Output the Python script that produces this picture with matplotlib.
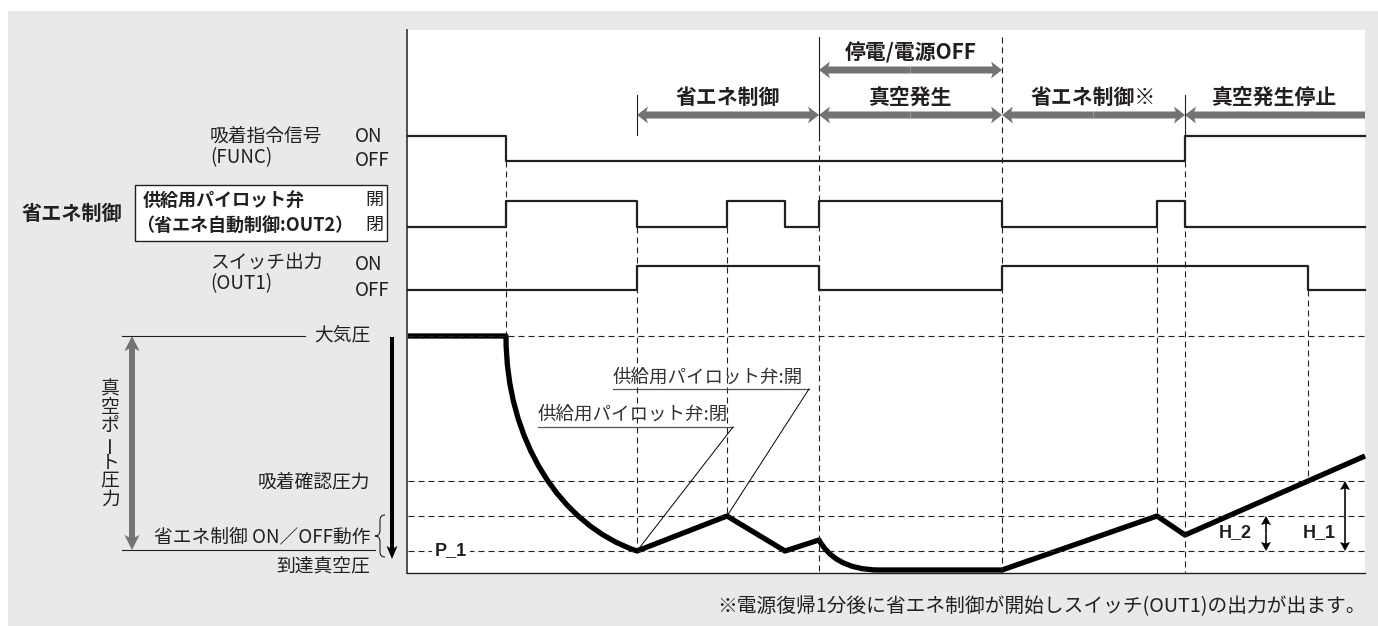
import matplotlib.pyplot as plt
from matplotlib.path import Path
from matplotlib.patches import PathPatch, Rectangle

plt.rcParams['font.family'] = ['Noto Sans CJK JP', 'DejaVu Sans']
plt.rcParams['lines.scale_dashes'] = False

INK = '#231f20'
GRAY = '#737373'
DASH = (0, (4.3, 2.9))

# time axis in diagram columns
t0, t_end = 408, 1365

# signal edges and states (1 = ON / 開)
func_t = [408, 506, 1185, 1365]
func_s = [1, 0, 1, 1]
pilot_t = [408, 506, 637, 727, 785, 819, 1002, 1157, 1185, 1365]
pilot_s = [0, 1, 0, 1, 0, 1, 0, 1, 0, 0]
out1_t = [408, 637, 819, 1002, 1308, 1365]
out1_s = [0, 1, 0, 1, 0, 0]

# signal levels (off, on)
func_lv = (161, 136)
pilot_lv = (227, 201)
out1_lv = (290, 266)

# pressure levels
p_atm, p_confirm, p_h, p_1, p_floor = 336, 481, 516, 551, 570

# vacuum port pressure trace (M = move, L = line, C = bezier)
press_x = [408, 506, 506, 560, 637, 727, 785, 819, 828, 845, 880, 1002, 1157, 1185, 1365]
press_y = [336, 336, 440, 525, 551, 516, 551, 540, 556, 570, 570, 570, 516, 535, 456]
press_c = ['M', 'L', 'C', 'C', 'C', 'L', 'L', 'L', 'C', 'C', 'C', 'L', 'L', 'L', 'L']

# guide lines (x, top, bottom)
guides_dashed = [(506, 161, 336), (637, 227, 551), (727, 227, 516), (819, 135, 573),
                 (1002, 37, 573), (1157, 227, 516), (1185, 161, 573), (1308, 290, 481)]
guides_solid = [(637, 95, 135), (819, 37, 135), (1185, 95, 135)]

# phase arrows
row1 = [('停電/電源OFF', 819, 1002, 'both')]
row2 = [('省エネ制御', 637, 819, 'both'), ('真空発生', 819, 1002, 'both'),
        ('省エネ制御※', 1002, 1185, 'both'), ('真空発生停止', 1185, 1365, 'left')]

fig = plt.figure(figsize=(13.78, 6.26), dpi=100)
ax = fig.add_axes([0, 0, 1, 1])
ax.set_xlim(0, 1378)
ax.set_ylim(626, 0)
ax.axis('off')

ax.add_patch(Rectangle((8, 11), 1370, 615, facecolor='#e8eae9', edgecolor='none'))
ax.add_patch(Rectangle((t0, 30), t_end - t0, 543, facecolor='white', edgecolor='none'))
ax.plot([407, 407], [30, 573], color='#444444', lw=1.3)
ax.plot([407, t_end], [573, 573], color=INK, lw=1.0)

# guides
for y in [p_atm, p_confirm, p_h, p_1]:
    ax.plot([t0, t_end], [y, y], color=INK, lw=0.8, ls=DASH)
for x, a, b in guides_dashed:
    ax.plot([x, x], [a, b], color=INK, lw=0.8, ls=DASH)
for x, a, b in guides_solid:
    ax.plot([x, x], [a, b], color=INK, lw=0.8)


def levels(states, lv):
    return [lv[1] if s else lv[0] for s in states]


for t, s, lv in [(func_t, func_s, func_lv), (pilot_t, pilot_s, pilot_lv), (out1_t, out1_s, out1_lv)]:
    ax.step(t, levels(s, lv), where='post', color=INK, lw=1.6)

codes = {'M': Path.MOVETO, 'L': Path.LINETO, 'C': Path.CURVE4}
path = Path(list(zip(press_x, press_y)), [codes[c] for c in press_c])
ax.add_patch(PathPatch(path, fill=False, edgecolor='black', lw=3.8, joinstyle='round'))


def arrow(x0, y0, x1, y1, w, hw, hl, color):
    ax.arrow(x0, y0, x1 - x0, y1 - y0, width=w, head_width=hw, head_length=hl,
             length_includes_head=True, color=color, lw=0, overhang=0.15)


def phase(items, y, ty):
    for label, a, b, kind in items:
        if kind == 'both':
            m = (a + b) / 2
            arrow(m, y, a, y, 7, 17, 11, GRAY)
            arrow(m, y, b, y, 7, 17, 11, GRAY)
        else:
            arrow(b, y, a, y, 7, 17, 11, GRAY)
        ax.text((a + b) / 2, ty, label, ha='center', va='center', fontsize=15,
                fontweight='bold', color=INK)


phase(row1, 70, 53)
phase(row2, 115, 97)

# left labels for signals
fs = 13.5
ax.text(210, 136, '吸着指令信号', ha='left', va='center', fontsize=fs, color=INK)
ax.text(210, 158, '(FUNC)', ha='left', va='center', fontsize=fs, color=INK)
ax.text(355, 136, 'ON', ha='left', va='center', fontsize=fs, color=INK)
ax.text(355, 160, 'OFF', ha='left', va='center', fontsize=fs, color=INK)
ax.text(210, 263, 'スイッチ出力', ha='left', va='center', fontsize=fs, color=INK)
ax.text(210, 284, '(OUT1)', ha='left', va='center', fontsize=fs, color=INK)
ax.text(355, 265, 'ON', ha='left', va='center', fontsize=fs, color=INK)
ax.text(355, 290, 'OFF', ha='left', va='center', fontsize=fs, color=INK)

ax.add_patch(Rectangle((135, 185), 252, 56, facecolor='white', edgecolor=INK, lw=1.0))
ax.text(143, 200, '供給用パイロット弁', ha='left', va='center', fontsize=13, fontweight='bold', color=INK)
ax.text(136, 225, '（省エネ自動制御:OUT2）', ha='left', va='center', fontsize=13, fontweight='bold', color=INK)
ax.text(383, 200, '開', ha='right', va='center', fontsize=13, color=INK)
ax.text(383, 225, '閉', ha='right', va='center', fontsize=13, color=INK)
ax.text(22, 213, '省エネ制御', ha='left', va='center', fontsize=14.5, fontweight='bold', color=INK)

# left labels for pressure
ax.plot([122, 305], [p_atm, p_atm], color=INK, lw=0.8)
ax.plot([122, 375], [550, 550], color=INK, lw=0.8)
ax.text(370, 335, '大気圧', ha='right', va='center', fontsize=fs, color=INK)
ax.text(370, 482, '吸着確認圧力', ha='right', va='center', fontsize=fs, color=INK)
ax.text(370, 537, '省エネ制御 ON／OFF動作', ha='right', va='center', fontsize=fs, color=INK)
ax.text(370, 567, '到達真空圧', ha='right', va='center', fontsize=fs, color=INK)

arrow(132, 443, 132, p_atm, 6, 15, 15, GRAY)
arrow(132, 443, 132, 550, 6, 15, 15, GRAY)
for i, ch in enumerate('真空ポート圧力'):
    ax.text(110, 389 + i * 18.4, ch, ha='center', va='center', fontsize=fs, color=INK,
            rotation=90 if ch == 'ー' else 0)

arrow(392, 337, 392, 559, 4, 11, 13, 'black')

brace = Path([(385, 515), (380, 515), (380, 520), (380, 530), (380, 536), (375, 536),
              (380, 536), (380, 542), (380, 552), (380, 557), (385, 557)],
             [Path.MOVETO, Path.CURVE3, Path.CURVE3, Path.LINETO, Path.CURVE3, Path.CURVE3,
              Path.CURVE3, Path.CURVE3, Path.LINETO, Path.CURVE3, Path.CURVE3])
ax.add_patch(PathPatch(brace, fill=False, edgecolor=INK, lw=0.8))

# callouts
callouts = [('供給用パイロット弁:閉', 538, 733, 415, 427, 637, p_1),
            ('供給用パイロット弁:開', 613, 809, 378, 389, 727, p_h)]
for label, xl, xr, ty, uy, px, py in callouts:
    ax.text(xl, ty, label, ha='left', va='center', fontsize=13.3, color='#333333')
    ax.plot([xl, xr], [uy, uy], color='#555555', lw=0.9)
    ax.plot([xr, px], [uy, py], color='black', lw=0.7)

ax.text(451, p_1, 'P_1', ha='center', va='center', fontsize=13, fontweight='bold',
        family='Liberation Sans', color=INK,
        bbox=dict(boxstyle='square,pad=0.15', facecolor='white', edgecolor='none'))

for x, top, label, tx in [(1266, p_h, 'H_2', 1235), (1345, p_confirm, 'H_1', 1319)]:
    m = (top + p_1) / 2
    arrow(x, m, x, top, 1.6, 10, 9, 'black')
    arrow(x, m, x, p_1, 1.6, 10, 9, 'black')
    ax.text(tx, 533, label, ha='center', va='center', fontsize=13, fontweight='bold',
            family='Liberation Sans', color=INK)

ax.text(1366, 607, '※電源復帰1分後に省エネ制御が開始しスイッチ(OUT1)の出力が出ます。',
        ha='right', va='center', fontsize=14.2, color=INK)

fig.savefig('out.png', dpi=100)
